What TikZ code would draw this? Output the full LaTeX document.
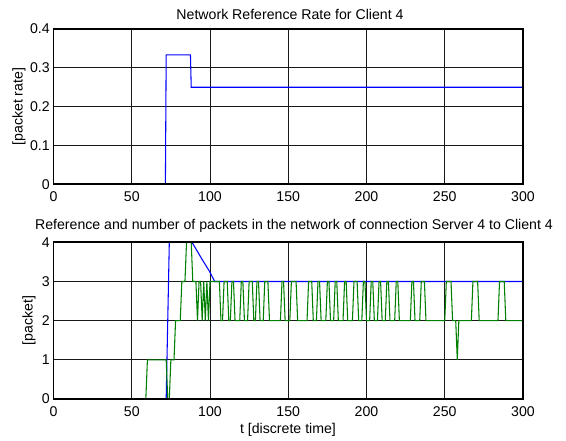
\documentclass[tikz,border=0pt]{standalone}
\usepackage{fontspec}
\setmainfont{Liberation Sans}
\usetikzlibrary{positioning}

\definecolor{matblue}{rgb}{0,0,1}
\definecolor{matgreen}{rgb}{0,0.5,0}

\def \lineW {0.8pt}
\def \xScale {1.565}

\tikzset{
  axframe/.style={line width=1.4pt},
  gridline/.style={line width=0.7pt, black!90},
  refline/.style={matblue, line width=\lineW},
  pktline/.style={matgreen, line width=\lineW},
  lbl/.style={font=\fontsize{10.6}{12}\selectfont, inner sep=0pt},
}

\begin{document}
\begin{tikzpicture}[x=0.75pt,y=0.75pt]
  \useasboundingbox (0,0) rectangle (566,441);

  % upper axes: reference rate
  \begin{scope}[shift={(53.5,256.7)},xscale=\xScale,yscale=388.25]
    \foreach \x in {50,100,...,250} \draw[gridline] (\x,0) -- (\x,0.4);
    \foreach \y in {0.1,0.2,0.3} \draw[gridline] (0,\y) -- (300,\y);
    \draw[refline] plot coordinates {(0,0) (71.5,0) (72,0.3333) (87.5,0.3333) (88,0.25) (300,0.25)};
    \draw[axframe] (0,0) rectangle (300,0.4);
    \foreach \x in {0,50,...,300} \node[lbl,below=5.2pt] (xa\x) at (\x,0) {\x};
    \foreach \y [count=\i] in {0,0.1,0.2,0.3,0.4} \node[lbl,left=2.6pt] (ya\i) at (0,\y) {\y};
  \end{scope}
  \node[lbl] (titleA) at (290,427) {Network Reference Rate for Client 4};
  \node[lbl,rotate=90] (ylabA) at (19,334.3) {[packet rate]};

  % lower axes: reference and packets in the network
  \begin{scope}[shift={(53.5,42)},xscale=\xScale,yscale=39.175]
    \foreach \x in {50,100,...,250} \draw[gridline] (\x,0) -- (\x,4);
    \foreach \y in {1,2,3} \draw[gridline] (0,\y) -- (300,\y);
    \draw[refline] plot coordinates {(0,0) (72,0) (74,4) (88.5,4) (95,3.56) (99.5,3.27) (103,3) (300,3)};
    \draw[pktline] plot coordinates {(0,0) (59,0) (60,1) (72,1) (73,0) (74,0) (75,1) (77,1) (78,2) (81,2)
      (82,3) (84,3) (85,4) (88,4) (89,3) (91,3) (92,2) (93,3) (94,3) (95,2) (96,3) (97,2) (98,3) (99,2)
      (100,3) (106,3) (107,2) (108,2) (109,3) (111,3) (112,2) (113,2) (114,3) (115,3) (116,2)
      (119,2) (120,3) (121,3) (122,2) (124,2) (125,3) (127,3) (128,2) (129,2) (130,3) (131,3) (132,2)
      (134,2) (135,3) (137,3) (138,2) (145,2) (146,3) (147,3) (148,2) (151,2) (152,3) (155,3) (156,2)
      (162,2) (163,3) (165,3) (166,2) (168,2) (169,3) (170,3) (171,2) (174,2) (175,3) (176,3) (177,2)
      (179,2) (180,3) (181,3) (182,2) (185,2) (186,3) (187,3) (188,2) (191,2) (192,3) (194,3) (195,2)
      (197,2) (198,3) (199,3) (200,2) (202,2) (203,3) (204,3) (205,2) (207,2) (208,3) (209,3) (210,2)
      (212,2) (213,3) (214,3) (215,2) (218,2) (219,3) (220,3) (221,2) (228,2) (229,3) (230,3) (231,2)
      (234,2) (235,3) (237,3) (238,2) (250,2) (251,3) (254,3) (255,2) (257,2) (258,1) (259,2)
      (267,2) (268,3) (271,3) (272,2) (284,2) (285,3) (288,3) (289,2) (300,2)};
    \draw[axframe] (0,0) rectangle (300,4);
    \foreach \x in {0,50,...,300} \node[lbl,below=5.2pt] (xb\x) at (\x,0) {\x};
    \foreach \y in {0,1,2,3,4} \node[lbl,left=2.6pt] (yb\y) at (0,\y) {\y};
  \end{scope}
  \node[lbl] (titleB) at (294,215) {Reference and number of packets in the network of connection Server 4 to Client 4};
  \node[lbl,rotate=90] (ylabB) at (29,120.4) {[packet]};
  \node[lbl] (xlabB) at (288,11.5) {t [discrete time]};
\end{tikzpicture}
\end{document}
